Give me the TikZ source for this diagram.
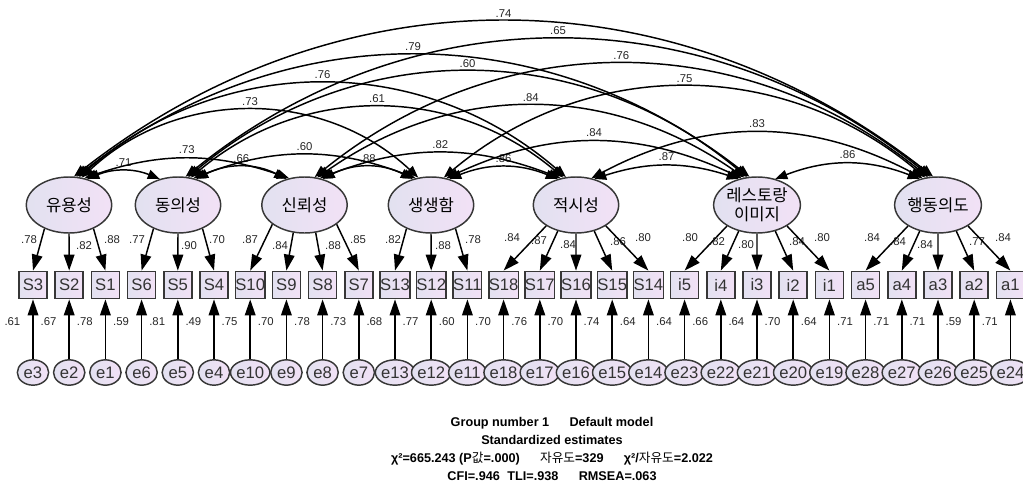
\documentclass[tikz,border=0pt]{standalone}
\usepackage{fontspec}
\setmainfont{Liberation Sans}
\newfontfamily\kr{Noto Sans CJK KR}
\usetikzlibrary{arrows.meta,shapes.geometric}

\definecolor{fillA}{RGB}{226,225,240}
\definecolor{fillB}{RGB}{242,225,246}
\definecolor{edgegray}{RGB}{55,55,55}

\tikzset{
  latent/.style={ellipse, draw=edgegray, line width=1.1pt, left color=fillA, right color=fillB,
    minimum width=64pt, minimum height=42pt, inner sep=0pt, align=center,
    font=\kr\fontsize{12.5}{14.5}\selectfont},
  obs/.style={rectangle, draw=edgegray, line width=1.1pt, left color=fillA, right color=fillB,
    minimum width=21pt, minimum height=20.5pt, inner sep=0pt, text=black!80,
    font=\fontsize{12.5}{13}\selectfont},
  err/.style={ellipse, draw=edgegray, line width=1.1pt, left color=fillA, right color=fillB,
    minimum width=23.5pt, minimum height=19pt, inner sep=0pt, text=black!80,
    font=\fontsize{12.5}{13}\selectfont},
  coef/.style={font=\fontsize{8.5}{10}\selectfont, inner sep=1pt, text=black!85},
  loadarrow/.style={line width=1.1pt, -{Triangle[length=12pt,width=8pt]}},
  cov/.style={line width=1.1pt, {Triangle[length=9pt,width=7pt]}-{Triangle[length=9pt,width=7pt]}},
}

\begin{document}
\begin{tikzpicture}[x=0.75pt,y=0.75pt]
\useasboundingbox (0,0) rectangle (1023,497);

% latent factors
\node[latent] (useful) at (69,292) {유용성};
\node[latent] (agree)  at (178,292) {동의성};
\node[latent] (trust)  at (304.5,292) {신뢰성};
\node[latent] (vivid)  at (431,292) {생생함};
\node[latent] (timely) at (576,292) {적시성};
\node[latent] (image)  at (757,292) {레스토랑\\이미지};
\node[latent] (intent) at (938,292) {행동의도};

% indicators, loadings, errors
\foreach \n/\lat/\ang/\ld/\lx/\ly/\e/\ev [count=\i from 0] in {
  S3/useful/224/.78/29/257/e3/.61,    S2/useful/270/.82/84/251/e2/.67,
  S1/useful/316/.88/112/257/e1/.78,   S6/agree/224/.77/137/257/e6/.59,
  S5/agree/270/.90/189/251/e5/.81,    S4/agree/316/.70/217/257/e4/.49,
  S10/trust/211/.87/250/257/e10/.75,  S9/trust/248/.84/280/251/e9/.70,
  S8/trust/292/.88/333/251/e8/.78,    S7/trust/329/.85/358/257/e7/.73,
  S13/vivid/224/.82/393/257/e13/.68,  S12/vivid/270/.88/443/251/e12/.77,
  S11/vivid/316/.78/473/257/e11/.60,  S18/timely/215/.84/512/259/e18/.70,
  S17/timely/235/.87/539/256/e17/.76, S16/timely/270/.84/568/252/e16/.70,
  S15/timely/305/.86/618/255/e15/.74, S14/timely/325/.80/643/259/e14/.64,
  i5/image/215/.80/690/259/e23/.64,   i4/image/235/.82/717/255/e22/.66,
  i3/image/270/.80/746/252/e21/.64,   i2/image/305/.84/797/255/e20/.70,
  i1/image/325/.80/822/259/e19/.64,   a5/intent/215/.84/872/259/e28/.71,
  a4/intent/235/.84/898/255/e27/.71,  a3/intent/270/.84/925/252/e26/.71,
  a2/intent/305/.77/977/255/e25/.59,  a1/intent/325/.84/1003/259/e24/.71}{
  \pgfmathsetmacro\xx{33+36.2*\i}
  \node[obs] (\n) at (\xx,212) {\n};
  \node[err] (\e) at (\xx,124.5) {\e};
  \draw[loadarrow] (\lat.\ang) -- (\n.north);
  \node[coef] (l\n) at (\lx,\ly) {\ld};
  \draw[loadarrow] (\e) -- (\n) node[coef,pos=0.62,left=8pt] {\ev};
}

% correlations between factors
\foreach \a/\b/\r/\t/\s in {
  useful/agree/.71/22/0, agree/trust/.66/27/0, trust/vivid/.88/27/0,
  vivid/timely/.86/22/0, timely/image/.87/18/0, image/intent/.86/21/0,
  useful/trust/.73/19/1, agree/vivid/.60/21/1, trust/timely/.82/21/1,
  vivid/image/.84/25/1, timely/intent/.83/28/1,
  useful/vivid/.73/43/2, agree/timely/.61/40/2, trust/image/.84/35/2,
  vivid/intent/.75/40/2,
  useful/timely/.76/41/3, agree/image/.60/40/3, trust/intent/.76/39/3,
  useful/image/.79/38/4, agree/intent/.65/39/4,
  useful/intent/.74/38/5}{
  \pgfmathtruncatemacro\sa{55+5*\s}
  \pgfmathtruncatemacro\sb{125-5*\s}
  \pgfmathsetmacro\tin{180-\t}
  \draw[cov] (\a.\sa) to[out=\t,in=\tin] node[coef,midway,above=2pt] {\r} (\b.\sb);
}

% fit summary
\node[font=\bfseries\fontsize{9.5}{13.5}\selectfont, align=center] (fit) at (552,48)
  {Group number 1\hspace{1.6em}Default model\\
   Standardized estimates\\
   χ²=665.243 (P{\kr\mdseries 값}=.000)\hspace{1.6em}{\kr\mdseries 자유도}=329\hspace{1.6em}χ²/{\kr\mdseries 자유도}=2.022\\
   CFI=.946\hspace{0.6em}TLI=.938\hspace{1.6em}RMSEA=.063};
\end{tikzpicture}
\end{document}
